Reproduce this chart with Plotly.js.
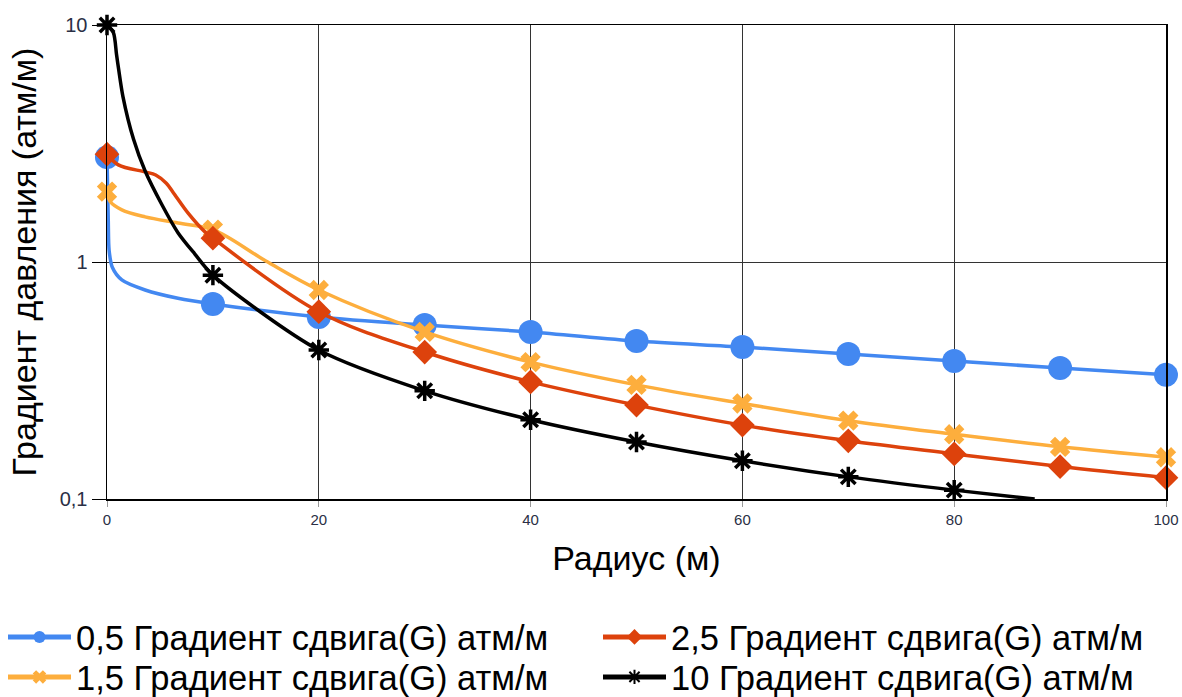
<!DOCTYPE html>
<html>
<head>
<meta charset="utf-8">
<script src="https://cdn.plot.ly/plotly-3.0.1.min.js"></script>
<style>html,body{margin:0;padding:0;background:#fff;}</style>
</head>
<body>
<div id="chart" style="width:1182px;height:697px;"></div>
<script>
// Radius (m) and pressure gradient (atm/m)
var blueX   = [0, 0.12, 0.2, 0.5, 1.4, 3.6, 6.7, 10, 20, 30, 40, 50, 60, 70, 80, 90, 100];
var blueY   = [2.77, 1.5, 1.12, 0.95, 0.84, 0.762, 0.703, 0.665, 0.586, 0.542, 0.507, 0.464, 0.438, 0.409, 0.382, 0.357, 0.334];

var orangeX = [0, 0.3, 1.4, 3.6, 6.7, 10, 15, 20, 30, 40, 50, 60, 70, 80, 90, 100];
var orangeY = [1.98, 1.80, 1.66, 1.55, 1.46, 1.37, 1.01, 0.762, 0.507, 0.378, 0.303, 0.253, 0.214, 0.1875, 0.166, 0.150];

var redX    = [0, 1.07, 3.6, 4.6, 5.6, 6.2, 7.7, 9.25, 10, 20, 30, 40, 50, 60, 70, 80, 90, 100];
var redY    = [2.85, 2.57, 2.40, 2.33, 2.15, 1.98, 1.60, 1.34, 1.26, 0.617, 0.417, 0.312, 0.249, 0.205, 0.176, 0.155, 0.137, 0.123];

var blackX  = [0, 0.6, 0.9, 1.1, 1.5, 2.5, 3.6, 5.2, 6.7, 8.3, 10, 20, 30, 40, 50, 60, 70, 80, 87.6];
var blackY  = [10, 9.3, 7.5, 6.5, 5.0, 3.3, 2.42, 1.74, 1.33, 1.08, 0.88, 0.425, 0.286, 0.216, 0.174, 0.145, 0.124, 0.109, 0.1];

var seriesNames = [
  '0,5 Градиент сдвига(G) атм/м',
  '1,5 Градиент сдвига(G) атм/м',
  '2,5 Градиент сдвига(G) атм/м',
  '10 Градиент сдвига(G) атм/м'
];

var xTickVals = [0, 20, 40, 60, 80, 100];
var yTickVals = [0.1, 1, 10];
var yTickText = ['0,1', '1', '10'];

var FONT = 'Arial, "Liberation Sans", sans-serif';

// plot area in pixels (for placing legends in paper coordinates)
var PL = 107, PR = 1166, PT = 25, PB = 499;
function px2x(p) { return (p - PL) / (PR - PL); }
function px2y(p) { return (PB - p) / (PB - PT); }

function sizes(xs, s) {
  return xs.map(function (x) { return (Math.abs(x % 10) < 1e-9) ? s : 0; });
}

function mk(xs, ys, name, color, symbol, size, legendId, lineW, smooth) {
  return {
    type: 'scatter', mode: 'lines+markers', x: xs, y: ys, name: name,
    legend: legendId, cliponaxis: false,
    line: {color: color, width: 3.5, shape: 'spline', smoothing: smooth},
    marker: {
      color: color, symbol: symbol, size: sizes(xs, size), opacity: 1,
      line: {color: color, width: lineW}
    }
  };
}

var data = [
  mk(blueX, blueY, seriesNames[0], '#4388f1', 'circle', 24, 'legend', 0, 0.8),
  mk(orangeX, orangeY, seriesNames[1], '#fdae3d', 'x', 18, 'legend3', 0, 1.0),
  mk(redX, redY, seriesNames[2], '#dd420c', 'diamond', 19, 'legend2', 0, 1.0),
  mk(blackX, blackY, seriesNames[3], '#000000', 'asterisk-open', 17, 'legend4', 3.5, 0.8)
];

function leg(leftPx, centerPy) {
  return {
    orientation: 'v', xref: 'paper', yref: 'paper',
    x: px2x(leftPx), y: px2y(centerPy),
    xanchor: 'left', yanchor: 'middle', itemsizing: 'constant', itemwidth: 63,
    font: {family: FONT, size: 34.5, color: '#000'}, bgcolor: 'rgba(0,0,0,0)',
    borderwidth: 0
  };
}

var layout = {
  width: 1182, height: 697,
  margin: {l: PL, r: 1182 - PR, t: PT, b: 697 - PB, autoexpand: false},
  paper_bgcolor: '#fff', plot_bgcolor: '#fff',
  font: {family: FONT, color: '#222'},
  separators: ', ',
  showlegend: true,
  xaxis: {
    range: [0, 100], tickvals: xTickVals, ticks: 'outside', ticklen: 6, tickcolor: '#999',
    showgrid: true, gridcolor: '#333', gridwidth: 1, zeroline: false,
    showline: true, linecolor: '#000', linewidth: 1.5, mirror: true,
    tickfont: {size: 15, color: '#2a2f45'},
    title: {text: 'Радиус (м)', font: {size: 34, color: '#000'}, standoff: 19}
  },
  yaxis: {
    type: 'log', range: [-1, 1], tickvals: yTickVals, ticktext: yTickText,
    ticks: 'outside', ticklen: 14, tickcolor: '#000',
    showgrid: true, gridcolor: '#333', gridwidth: 1, zeroline: false,
    showline: true, linecolor: '#000', linewidth: 1.5, mirror: true,
    tickfont: {size: 20, color: '#2a2f45'},
    title: {text: 'Градиент давления (атм/м)', font: {size: 34, color: '#000'}, standoff: 13}
  },
  legend:  leg(3, 637),
  legend3: leg(3, 677),
  legend2: leg(598, 637),
  legend4: leg(598, 677)
};

Plotly.newPlot('chart', data, layout, {displayModeBar: false, staticPlot: true});
</script>
</body>
</html>
